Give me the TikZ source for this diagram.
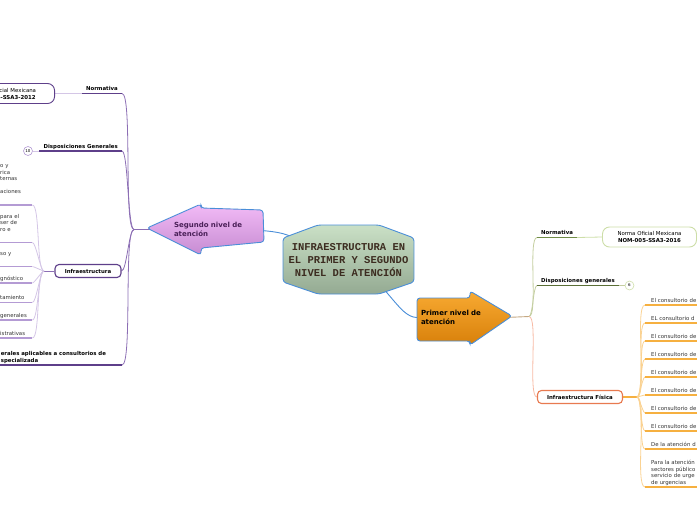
\documentclass[tikz,border=0pt]{standalone}
\usepackage{fontspec}
\setmainfont{DejaVu Sans}
\newfontfamily\rootfont{Liberation Mono}
\usetikzlibrary{positioning, calc, backgrounds}

\definecolor{rootedge}{RGB}{74,142,216}
\definecolor{roottop}{RGB}{202,224,198}
\definecolor{rootbottom}{RGB}{148,170,146}
\definecolor{roottext}{RGB}{60,44,32}
\definecolor{lilactop}{RGB}{242,186,246}
\definecolor{lilacbottom}{RGB}{198,140,210}
\definecolor{lilactext}{RGB}{74,32,88}
\definecolor{ambertop}{RGB}{248,170,50}
\definecolor{amberbottom}{RGB}{216,128,10}
\definecolor{plum}{RGB}{94,63,138}
\definecolor{plumlight}{RGB}{140,110,180}
\definecolor{plummid}{RGB}{180,155,212}
\definecolor{plumpale}{RGB}{212,198,230}
\definecolor{olive}{RGB}{112,140,70}
\definecolor{olivedark}{RGB}{90,110,53}
\definecolor{olivepale}{RGB}{196,206,160}
\definecolor{sage}{RGB}{205,222,168}
\definecolor{coral}{RGB}{232,122,80}
\definecolor{coralpale}{RGB}{247,186,164}
\definecolor{tangerine}{RGB}{246,176,64}
\definecolor{tangerinepale}{RGB}{250,210,146}
\definecolor{tanline}{RGB}{196,168,130}
\definecolor{leafgray}{RGB}{51,51,51}

\tikzset{
  nivel/.style={draw=rootedge, line width=0.9pt, rounded corners=3pt},
  central/.style={
    font=\rootfont\bfseries\fontsize{10.5}{13}\selectfont, text=roottext,
    align=center, minimum width=131pt, minimum height=44pt, inner sep=0pt
  },
  mainlabel/.style={
    font=\bfseries\fontsize{7}{9}\selectfont, align=left, text width=70pt,
    minimum height=40pt, inner sep=0pt
  },
  topic/.style={
    font=\bfseries\fontsize{5.4}{6.5}\selectfont, inner xsep=4pt,
    inner ysep=1.5pt, text depth=1.2pt
  },
  topicblock/.style={
    font=\bfseries\fontsize{5.4}{6.5}\selectfont, align=left,
    inner ysep=1.5pt
  },
  topicbox/.style={
    rectangle, rounded corners=4pt, fill=white, line width=1.1pt,
    minimum height=13pt, font=\bfseries\fontsize{5.4}{6.5}\selectfont
  },
  nombox/.style={
    rectangle, rounded corners=7pt, fill=white, line width=0.9pt,
    minimum width=94pt, minimum height=20pt, align=center,
    font=\fontsize{5.4}{7}\selectfont
  },
  leaf/.style={
    font=\fontsize{5.4}{6.5}\selectfont, text=leafgray, align=left,
    inner ysep=1.5pt, anchor=south west
  },
  lblock/.style={leaf, text width=30pt, inner xsep=2pt},
  lleaf/.style={lblock, text depth=1.2pt},
  rblock/.style={leaf, text width=60pt, inner xsep=6pt},
  rleaf/.style={rblock, text depth=1.2pt},
  counter/.style={
    circle, fill=white, minimum size=9pt, inner sep=0pt,
    font=\fontsize{4}{4}\selectfont, line width=0.6pt
  },
  linkblue/.style={draw=rootedge, line width=0.9pt},
  plumlink/.style={draw=plumlight, line width=0.8pt},
  plumbar/.style={draw=plum, line width=1.3pt},
  plumtwig/.style={draw=plumpale, line width=0.8pt},
  plumleaf/.style={draw=plummid, line width=1.2pt},
  olivelink/.style={draw=olivepale, line width=0.8pt},
  corallink/.style={draw=coralpale, line width=0.8pt},
  orangetwig/.style={draw=tangerinepale, line width=0.8pt},
  orangeleaf/.style={draw=tangerine, line width=1.2pt}
}

\begin{document}
\begin{tikzpicture}[x=1pt, y=-1pt]
  \useasboundingbox (0,0) rectangle (697,520);
  \clip (0,0) rectangle (697,520);

  % main shapes
  \path[nivel, top color=roottop, bottom color=rootbottom]
    (283,238) -- (318,225) -- (379,225) -- (414,238) -- (414,282)
    -- (379,294) -- (318,294) -- (283,282) -- cycle;
  \path[nivel, top color=lilactop, bottom color=lilacbottom]
    (147,228) -- (201,204) -- (201,208) -- (263,210) -- (264,242)
    -- (201,248) -- (201,255) -- cycle;
  \path[nivel, top color=ambertop, bottom color=amberbottom]
    (417,298) -- (470,298) -- (470,291) -- (512,316) -- (470,345)
    -- (470,341) -- (417,341) -- cycle;

  \node[central] (root) at (348.5,260) {INFRAESTRUCTURA EN\\EL PRIMER Y SEGUNDO\\NIVEL DE ATENCIÓN};
  \node[mainlabel, text=lilactext, minimum width=112pt] (second) at (209,229.5) {Segundo nivel de\\atención};
  \node[mainlabel, text width=80pt, minimum width=88pt] (first) at (461,317.5) {Primer nivel de\\atención};

  % segundo nivel
  \coordinate (lhub) at (134,229.5);
  \coordinate (lfan) at (44,271);
  \node[topic, anchor=south east] (lnorm) at (122,93.5) {Normativa};
  \node[nombox, draw=plum, anchor=east, minimum width=101pt] (lnom) at (55,93.5) {Norma Oficial Mexicana\\\textbf{NOM-016-SSA3-2012}};
  \node[topic, anchor=south east] (ldisp) at (122,151) {Disposiciones Generales};
  \node[counter, draw=plummid] (lcount) at (28,151) {10};
  \node[topicbox, draw=plum, minimum width=66pt] (linfra) at (88,271) {Infraestructura};
  \node[topicblock, anchor=south east, text width=120pt, inner xsep=1pt] (lgen) at (122,365) {erales aplicables a consultorios de\\specializada};

  \node[lblock] (lc1) at (-2,205) {o y\\rica\\ternas\\[6.5pt]aciones\\[3.2pt]\mbox{}};
  \node[lblock] (lc2) at (-2,242.5) {para el\\ser de\\ro e\\[3.2pt]\mbox{}};
  \node[lblock] (lc3) at (-2,266.5) {so y\\[3.2pt]\mbox{}};
  \node[lleaf] (lc4) at (-2,283) {gnóstico};
  \node[lleaf] (lc5) at (-2,302.5) {tamiento};
  \node[lleaf] (lc6) at (-2,320) {generales};
  \node[lleaf] (lc7) at (-2,338) {istrativas};

  % primer nivel
  \coordinate (rhub) at (529,316.5);
  \coordinate (rfan) at (637,397);
  \node[topic, anchor=south west] (rnorm) at (537,237.5) {Normativa};
  \node[nombox, draw=sage] (rnom) at (649.5,237) {Norma Oficial Mexicana\\\textbf{NOM-005-SSA3-2016}};
  \node[topic, anchor=south west] (rdisp) at (537,285.5) {Disposiciones generales};
  \node[counter, draw=sage] (rcount) at (629.5,285.5) {6};
  \node[topicbox, draw=coral, minimum width=85pt] (rfis) at (580,397) {Infraestructura Física};

  \node[rleaf] (rc1) at (645,305) {El consultorio de};
  \node[rleaf] (rc2) at (645,323) {EL consultorio d};
  \node[rleaf] (rc3) at (645,341) {El consultorio de};
  \node[rleaf] (rc4) at (645,359) {El consultorio de};
  \node[rleaf] (rc5) at (645,377) {El consultorio de};
  \node[rleaf] (rc6) at (645,395) {El consultorio de};
  \node[rleaf] (rc7) at (645,413) {El consultorio de};
  \node[rleaf] (rc8) at (645,431) {El consultorio de};
  \node[rleaf] (rc9) at (645,449) {De la atención d};
  \node[rblock] (rc10) at (645,487) {Para la atención\\sectores público\\servicio de urge\\de urgencias};

  \begin{scope}[on background layer]
    \clip (0,0) rectangle (697,520);
    % main links
    \draw[linkblue] (second.center) .. controls (272,229) and (284,232) .. (298,240) -- (root.center);
    \draw[linkblue] (root.center) .. controls (388,282) and (398,317) .. (first.west);

    % left branches
    \draw[plumlink] (second.west) -- (lhub);
    \draw[plumlink] (lhub) to[out=180, in=0, looseness=0.2] (lnorm.south east);
    \draw[plumlink] (lhub) to[out=180, in=0, looseness=0.2] (ldisp.south east);
    \draw[plumlink] (lhub) to[out=180, in=0, looseness=0.3] (linfra.east);
    \draw[plumlink] (lhub) to[out=180, in=0, looseness=0.2] (lgen.south east);
    \draw[plumbar] (lnorm.south west) -- (lnorm.south east);
    \draw[plumbar] (ldisp.south west) -- (ldisp.south east);
    \draw[plumbar] (lgen.south west) -- (lgen.south east);
    \draw[plumtwig] (lnom.east) -- (lnorm.south west);
    \draw[plumtwig] (lcount.east) -- (ldisp.south west);

    \draw[plumlink] (linfra.west) -- (lfan);
    \draw[plumtwig] (lfan) to[out=180, in=0, looseness=0.3] (lc1.south east);
    \draw[plumtwig] (lfan) to[out=180, in=0, looseness=0.3] (lc2.south east);
    \draw[plumtwig] (lfan) to[out=180, in=0, looseness=0.3] (lc3.south east);
    \draw[plumtwig] (lfan) to[out=180, in=0, looseness=0.3] (lc4.south east);
    \draw[plumtwig] (lfan) to[out=180, in=0, looseness=0.3] (lc5.south east);
    \draw[plumtwig] (lfan) to[out=180, in=0, looseness=0.3] (lc6.south east);
    \draw[plumtwig] (lfan) to[out=180, in=0, looseness=0.3] (lc7.south east);
    \draw[plumleaf] (lc1.south west) -- (lc1.south east);
    \draw[plumleaf] (lc2.south west) -- (lc2.south east);
    \draw[plumleaf] (lc3.south west) -- (lc3.south east);
    \draw[plumleaf] (lc4.south west) -- (lc4.south east);
    \draw[plumleaf] (lc5.south west) -- (lc5.south east);
    \draw[plumleaf] (lc6.south west) -- (lc6.south east);
    \draw[plumleaf] (lc7.south west) -- (lc7.south east);

    % right branches
    \draw[draw=tanline, line width=0.9pt] (first.east) -- (rhub);
    \draw[olivelink] (rhub) to[out=0, in=180, looseness=0.3] (rnorm.south west);
    \draw[olivelink] (rhub) to[out=0, in=180, looseness=0.3] (rdisp.south west);
    \draw[corallink] (rhub) to[out=0, in=180, looseness=0.3] (rfis.west);
    \draw[draw=olive, line width=1.3pt] (rnorm.south west) -- (rnorm.south east);
    \draw[draw=olivedark, line width=1.3pt] (rdisp.south west) -- (rdisp.south east);
    \draw[draw=sage, line width=0.8pt] (rnorm.south east) -- (rnom.west);
    \draw[draw=olivepale, line width=0.8pt] (rdisp.south east) -- (rcount.west);

    \draw[draw=tangerine, line width=1.6pt] (rfis.east) -- (rfan);
    \draw[orangetwig] (rfan) to[out=0, in=180, looseness=0.3] (rc1.south west);
    \draw[orangetwig] (rfan) to[out=0, in=180, looseness=0.3] (rc2.south west);
    \draw[orangetwig] (rfan) to[out=0, in=180, looseness=0.3] (rc3.south west);
    \draw[orangetwig] (rfan) to[out=0, in=180, looseness=0.3] (rc4.south west);
    \draw[orangetwig] (rfan) to[out=0, in=180, looseness=0.3] (rc5.south west);
    \draw[orangetwig] (rfan) to[out=0, in=180, looseness=0.3] (rc6.south west);
    \draw[orangetwig] (rfan) to[out=0, in=180, looseness=0.3] (rc7.south west);
    \draw[orangetwig] (rfan) to[out=0, in=180, looseness=0.3] (rc8.south west);
    \draw[orangetwig] (rfan) to[out=0, in=180, looseness=0.3] (rc9.south west);
    \draw[orangetwig] (rfan) to[out=0, in=180, looseness=0.3] (rc10.south west);
    \draw[orangeleaf] (rc1.south west) -- (rc1.south east);
    \draw[orangeleaf] (rc2.south west) -- (rc2.south east);
    \draw[orangeleaf] (rc3.south west) -- (rc3.south east);
    \draw[orangeleaf] (rc4.south west) -- (rc4.south east);
    \draw[orangeleaf] (rc5.south west) -- (rc5.south east);
    \draw[orangeleaf] (rc6.south west) -- (rc6.south east);
    \draw[orangeleaf] (rc7.south west) -- (rc7.south east);
    \draw[orangeleaf] (rc8.south west) -- (rc8.south east);
    \draw[orangeleaf] (rc9.south west) -- (rc9.south east);
    \draw[orangeleaf] (rc10.south west) -- (rc10.south east);
  \end{scope}
\end{tikzpicture}
\end{document}
